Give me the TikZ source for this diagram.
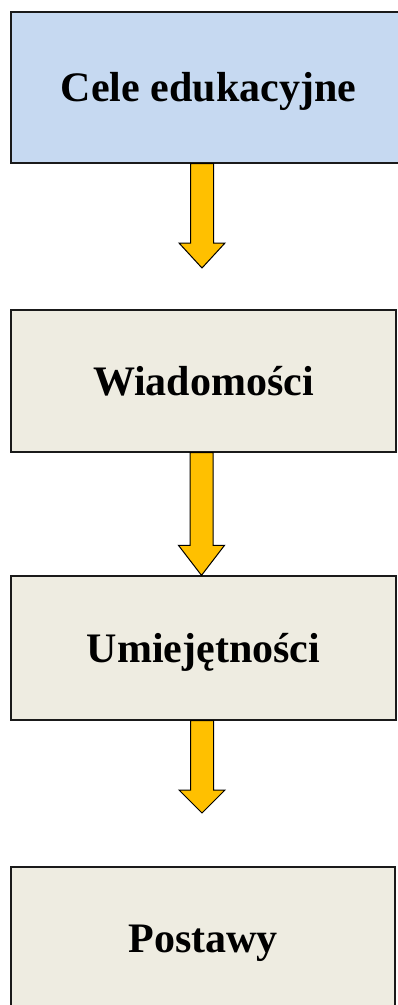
\documentclass[tikz,border=0pt]{standalone}
\usepackage{fontspec}
\setmainfont{Liberation Serif}
\usetikzlibrary{calc}
\definecolor{blueA}{HTML}{C6D9F1}
\definecolor{beigeA}{HTML}{EEECE1}
\definecolor{arrowfill}{HTML}{FFC000}
\definecolor{edgeA}{HTML}{1A1A1A}
\tikzset{
  box/.style={draw=edgeA, line width=1.3pt, rectangle, inner sep=0pt,
    text height=28pt, text depth=0pt,
    font=\fontsize{42}{50}\selectfont\bfseries, align=center},
  fat/.style={draw=black, line width=1pt, fill=arrowfill, line join=miter},
}
\newcommand{\fatarrow}[3]{%
  \draw[fat] let \p1=(#1), \p2=(#2) in
    (\x1-11.5pt,\y1) -- (\x1+11.5pt,\y1) -- (\x1+11.5pt,\y2+#3) --
    (\x1+23pt,\y2+#3) -- (\x1,\y2) -- (\x1-23pt,\y2+#3) --
    (\x1-11.5pt,\y2+#3) -- cycle;}
\begin{document}
\begin{tikzpicture}[x=1pt,y=1pt]
  \useasboundingbox (0,0) rectangle (398,-1005);
  \clip (0,0) rectangle (398,-1005);
  \fill[white] (0,0) rectangle (398,-1005);
  \node[box, fill=blueA, minimum width=395pt, minimum height=151pt] (b1) at (208.5,-87.5) {Cele edukacyjne};
  \node[box, fill=beigeA, minimum width=385pt, minimum height=142pt] (b2) at (203.5,-381) {Wiadomości};
  \node[box, fill=beigeA, minimum width=385pt, minimum height=144pt] (b3) at (203.5,-648) {Umiejętności};
  \node[box, fill=beigeA, minimum width=384pt, minimum height=143pt] (b4) at (203,-938.5) {Postawy};
  \coordinate (a1s) at (b1.south -| 202,0);
  \coordinate (a1t) at (202,-268);
  \coordinate (a2s) at (b2.south -| 201.5,0);
  \coordinate (a2t) at (b3.north -| 201.5,0);
  \coordinate (a3s) at (b3.south -| 202,0);
  \coordinate (a3t) at (202,-813);
  \fatarrow{a1s}{a1t}{25pt}
  \fatarrow{a2s}{a2t}{30pt}
  \fatarrow{a3s}{a3t}{23pt}
\end{tikzpicture}
\end{document}
